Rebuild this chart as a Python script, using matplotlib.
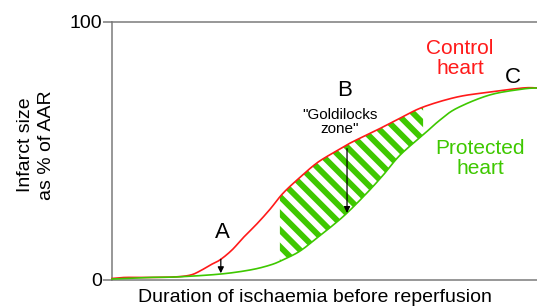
import numpy as np
import matplotlib
matplotlib.use('Agg')
import matplotlib.pyplot as plt

plt.rcParams['font.family'] = ['Liberation Sans', 'DejaVu Sans']
plt.rcParams['hatch.linewidth'] = 4.2

# curves (x: 0-100 duration, y: infarct size % of AAR)
control_x = [0, 3.1, 8.9, 14.8, 18.4, 20.7, 23.1, 25.4, 28.2, 30.8, 34.1, 37.2,
             40.2, 44.2, 48.2, 52.0, 56.0, 60.0, 63.8, 67.8, 73.2, 81.2, 88.9, 96.7, 100]
control_y = [0.4, 0.8, 0.8, 1.0, 1.7, 3.3, 5.6, 7.6, 11.4, 16.1, 21.6, 27.3,
             33.4, 39.6, 45.2, 49.1, 52.9, 56.1, 59.2, 62.6, 66.9, 70.8, 72.7, 74.3, 74.3]
protected_x = [0, 8.9, 15.3, 25.4, 32.5, 37.2, 40.2, 44.2, 48.2, 51.8, 55.3, 60.0,
               63.8, 67.8, 73.2, 77.2, 81.2, 88.9, 96.7, 100]
protected_y = [0.2, 0.8, 1.0, 2.1, 3.7, 5.6, 7.6, 11.0, 16.1, 20.8, 25.8, 33.6,
               40.5, 48.3, 56.1, 61.9, 66.5, 71.6, 73.9, 74.3]
zone = [39.5, 73.2]   # "Goldilocks zone"
arrow_a_x = 25.6
arrow_b_x = 55.3

red = '#ff1a1a'
green = '#3ec800'


def smooth(xs, ys, n=12):
    # catmull-rom through the read points, only for drawing
    p = np.column_stack([xs, ys]).astype(float)
    p = np.vstack([p[0], p, p[-1]])
    out = []
    t = np.linspace(0, 1, n, endpoint=False)[:, None]
    for i in range(1, len(p) - 2):
        p0, p1, p2, p3 = p[i - 1], p[i], p[i + 1], p[i + 2]
        seg = 0.5 * ((2 * p1) + (-p0 + p2) * t + (2 * p0 - 5 * p1 + 4 * p2 - p3) * t ** 2
                     + (-p0 + 3 * p1 - 3 * p2 + p3) * t ** 3)
        out.append(seg)
    out.append(p[-2][None, :])
    out = np.vstack(out)
    return out[:, 0], out[:, 1]


rx, ry = smooth(control_x, control_y)
gx, gy = smooth(protected_x, protected_y)

fig = plt.figure(figsize=(5.37, 3.08), dpi=100)
ax = fig.add_axes([0.2086, 0.0925, 0.7914, 0.837])

ax.plot(rx, ry, color=red, lw=1.2, clip_on=False, zorder=3)
ax.plot(gx, gy, color=green, lw=1.2, clip_on=False, zorder=3)

# hatched zone between the curves
xz = np.linspace(zone[0], zone[1], 200)
ax.fill_between(xz, np.interp(xz, gx, gy), np.interp(xz, rx, ry),
                facecolor='none', edgecolor=green, hatch='\\\\', linewidth=0, zorder=2)

# arrows
ya0 = np.interp(arrow_a_x, rx, ry)
ya1 = np.interp(arrow_a_x, gx, gy)
ax.annotate('', xy=(arrow_a_x, ya1 + 0.3), xytext=(arrow_a_x, ya0),
            arrowprops=dict(arrowstyle='-|>', color='black', lw=0.9, mutation_scale=9,
                            shrinkA=0, shrinkB=0))
yb0 = np.interp(arrow_b_x, rx, ry) - 1.5
yb1 = np.interp(arrow_b_x, gx, gy)
ax.annotate('', xy=(arrow_b_x, yb1), xytext=(arrow_b_x, yb0),
            arrowprops=dict(arrowstyle='-|>', color='black', lw=0.9, mutation_scale=9,
                            shrinkA=0, shrinkB=0))

ax.text(25.9, 18.4, 'A', fontsize=16, ha='center', va='center')
ax.text(54.8, 73.5, 'B', fontsize=16, ha='center', va='center')
ax.text(94.4, 78.5, 'C', fontsize=16, ha='center', va='center')
ax.text(53.6, 61.2, '"Goldilocks\nzone"', fontsize=11, ha='center', va='center', linespacing=1.0)
ax.text(81.9, 85.7, 'Control\nheart', fontsize=15, color=red, ha='center', va='center',
        linespacing=1.1)
ax.text(86.6, 46.9, 'Protected\nheart', fontsize=15, color=green, ha='center', va='center',
        linespacing=1.1)

ax.set_xlim(0, 100)
ax.set_ylim(0, 100)
ax.set_xticks([])
ax.set_yticks([0, 100])
ax.set_yticklabels(['0', '100'], fontsize=14)
ax.tick_params(axis='y', length=6.5, width=1.1, color='#7a7a7a', pad=0.5)
for s in ['left', 'top', 'bottom']:
    ax.spines[s].set_color('#7a7a7a')
    ax.spines[s].set_linewidth(1.1)
ax.spines['right'].set_visible(False)

fig.text(0.067, 0.529, 'Infarct size\nas % of AAR', rotation=90, fontsize=14,
         ha='center', va='center', multialignment='center', linespacing=1.3)
fig.text(0.587, 0.0325, 'Duration of ischaemia before reperfusion', fontsize=14,
         ha='center', va='center')

fig.savefig('out.png', dpi=100)
